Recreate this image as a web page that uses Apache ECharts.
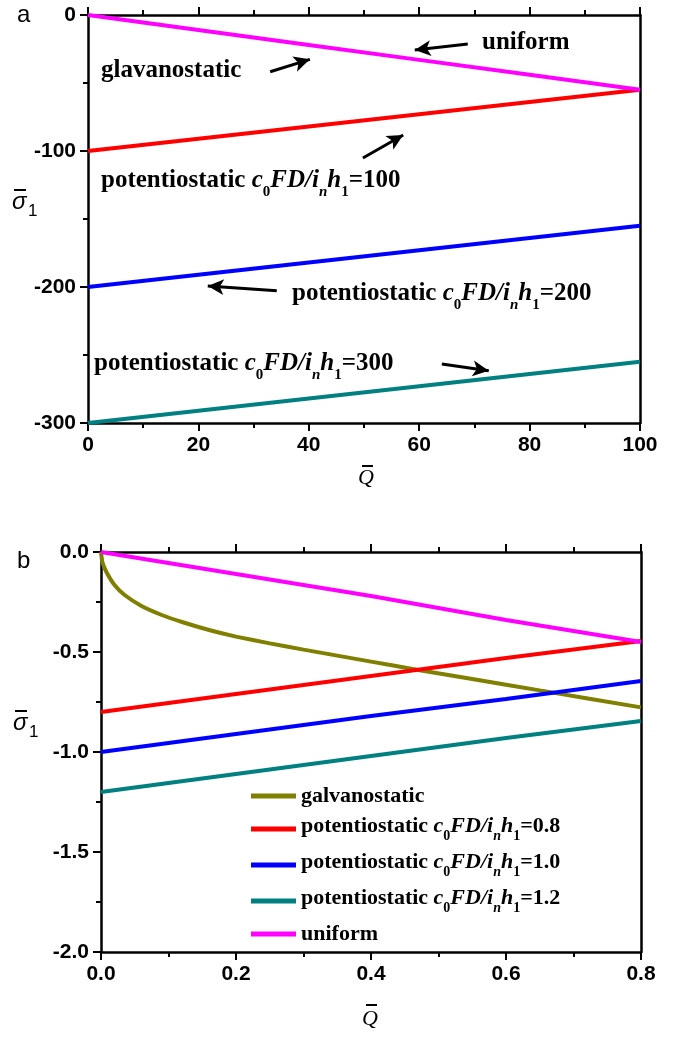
<!DOCTYPE html>
<html lang="en">
<head>
<meta charset="UTF-8">
<title>sigma1 vs Q</title>
<script src="https://cdn.jsdelivr.net/npm/echarts@6/dist/echarts.min.js"></script>
<style>body{margin:0;background:#fff}</style>
</head>
<body>
<div id="main" style="width:676px;height:1038px;"></div>
<script>
// panel a
var qA = [0, 20, 40, 60, 80, 100];
var uniformA = [0, -11, -22, -33, -44, -55];
var pot100 = [-100, -91, -82, -73, -64, -55];
var pot200 = [-200, -191, -182, -173, -164, -155];
var pot300 = [-300, -291, -282, -273, -264, -255];
// arrows of panel a, [from, to] in data units
var arrowsA = [
    [[68.8, -21.3], [59.2, -25.7]],
    [[33.0, -41.7], [40.2, -32.6]],
    [[49.8, -105.1], [57.1, -88.2]],
    [[34.2, -202.7], [21.7, -199.3]],
    [[64.1, -256.6], [72.6, -261.5]]
];

// panel b
var qB = [0, 0.2, 0.4, 0.6, 0.8];
var uniformB = [0, -0.11, -0.22, -0.34, -0.45];
var pot08 = [-0.8, -0.71, -0.62, -0.53, -0.445];
var pot10 = [-1.0, -0.91, -0.82, -0.735, -0.645];
var pot12 = [-1.2, -1.11, -1.02, -0.93, -0.845];
var qGalv = [0, 0.002, 0.008, 0.02, 0.035, 0.06, 0.09, 0.12, 0.16, 0.2, 0.25, 0.3, 0.35, 0.4, 0.47, 0.55, 0.65, 0.8];
var galv = [0, -0.05, -0.1, -0.165, -0.215, -0.27, -0.315, -0.35, -0.39, -0.423, -0.457, -0.488, -0.518, -0.548, -0.59, -0.635, -0.692, -0.777];

var names = ['galvanostatic', 'potentiostatic 0.8', 'potentiostatic 1.0', 'potentiostatic 1.2', 'uniform'];

function pts(xs, ys) {
    return xs.map(function (x, i) { return [x, ys[i]]; });
}

var serif = 'Liberation Serif';
var sans = 'Liberation Sans';

function richSet(size, sub, drop) {
    return {
        p: {fontFamily: serif, fontWeight: 'bold', fontSize: size, color: '#000', verticalAlign: 'top'},
        i: {fontFamily: serif, fontWeight: 'bold', fontStyle: 'italic', fontSize: size, color: '#000', verticalAlign: 'top'},
        s: {fontFamily: serif, fontWeight: 'bold', fontSize: sub, color: '#000', verticalAlign: 'top', padding: [drop, 0, 0, 0]},
        si: {fontFamily: serif, fontWeight: 'bold', fontStyle: 'italic', fontSize: sub, color: '#000', verticalAlign: 'top', padding: [drop, 0, 0, 0]}
    };
}
function potText(v) {
    return '{p|potentiostatic }{i|c}{s|0}{i|FD/i}{si|n}{i|h}{s|1}{p|=' + v + '}';
}

var myChart = echarts.init(document.getElementById('main'));

function xAx(grid, min, max, interval, top, fmt) {
    return {
        type: 'value', gridIndex: grid, min: min, max: max, interval: interval,
        position: top ? 'top' : 'bottom',
        axisLine: {onZero: false, lineStyle: {color: '#000', width: 2.5}},
        axisTick: {length: 8, lineStyle: {color: '#000', width: 2}},
        minorTick: {show: true, splitNumber: 2, length: 5, lineStyle: {color: '#000', width: 2}},
        splitLine: {show: false},
        axisLabel: {show: !top, margin: 12, color: '#000', fontFamily: sans, fontWeight: 'bold', fontSize: 21, formatter: fmt}
    };
}
function yAx(grid, min, max, interval, right, fmt) {
    return {
        type: 'value', gridIndex: grid, min: min, max: max, interval: interval,
        position: right ? 'right' : 'left',
        axisLine: {onZero: false, lineStyle: {color: '#000', width: 2.5}},
        axisTick: {show: !right, length: 8, lineStyle: {color: '#000', width: 2}},
        minorTick: {show: !right, splitNumber: 2, length: 5, lineStyle: {color: '#000', width: 2}},
        splitLine: {show: false},
        axisLabel: {show: !right, margin: 12, color: '#000', fontFamily: sans, fontWeight: 'bold', fontSize: 21, formatter: fmt}
    };
}
var f1 = function (v) { return v.toFixed(1); };

function line(name, x, y, data, color, extra) {
    var s = {
        name: name, type: 'line', xAxisIndex: x, yAxisIndex: y, data: data,
        symbol: 'none', lineStyle: {color: color, width: 4}, itemStyle: {color: color}
    };
    for (var k in extra) s[k] = extra[k];
    return s;
}

var legendRich = richSet(22, 14, 14);

option = {
    animation: false,
    backgroundColor: '#fff',
    grid: [
        {left: 88, right: 36, top: 15, height: 408},
        {left: 101, right: 35, top: 552, height: 400}
    ],
    xAxis: [
        xAx(0, 0, 100, 20, false),
        xAx(0, 0, 100, 20, true),
        xAx(1, 0, 0.8, 0.2, false, f1),
        xAx(1, 0, 0.8, 0.2, true, f1)
    ],
    yAxis: [
        yAx(0, -300, 0, 100, false),
        yAx(0, -300, 0, 100, true),
        yAx(1, -2, 0, 0.5, false, f1),
        yAx(1, -2, 0, 0.5, true, f1)
    ],
    legend: {
        data: names,
        orient: 'vertical',
        left: 251,
        top: 785,
        padding: 0,
        itemWidth: 45,
        itemHeight: 5,
        itemGap: 8,
        icon: 'rect',
        formatter: function (n) {
            if (n === 'galvanostatic' || n === 'uniform') return '{p|' + n + '}';
            return potText(n.split(' ')[1]);
        },
        textStyle: {rich: legendRich},
        itemStyle: {borderWidth: 0}
    },
    series: [
        line('a 100', 0, 0, pts(qA, pot100), '#ff0000'),
        line('a 200', 0, 0, pts(qA, pot200), '#0000ff'),
        line('a 300', 0, 0, pts(qA, pot300), '#008080', {
            markLine: {
                silent: true, symbol: ['none', 'arrow'], symbolSize: [12, 16],
                label: {show: false},
                lineStyle: {color: '#000', width: 3, type: 'solid'},
                data: arrowsA.map(function (a) { return [{coord: a[0]}, {coord: a[1]}]; })
            }
        }),
        line('a uniform', 0, 0, pts(qA, uniformA), '#ff00ff'),
        line(names[0], 2, 2, pts(qGalv, galv), '#808000', {smooth: 0.15}),
        line(names[1], 2, 2, pts(qB, pot08), '#ff0000'),
        line(names[2], 2, 2, pts(qB, pot10), '#0000ff'),
        line(names[3], 2, 2, pts(qB, pot12), '#008080'),
        line(names[4], 2, 2, pts(qB, uniformB), '#ff00ff')
    ],
    graphic: [
        {type: 'text', x: 17, y: 3, style: {text: 'a', font: '24px ' + sans, fill: '#000'}},
        {type: 'text', x: 17, y: 549, style: {text: 'b', font: '24px ' + sans, fill: '#000'}},
        // annotations of panel a
        {type: 'text', x: 482, y: 30, style: {text: '{p|uniform}', rich: richSet(25, 15, 17)}},
        {type: 'text', x: 101, y: 58, style: {text: '{p|glavanostatic}', rich: richSet(25, 15, 17)}},
        {type: 'text', x: 101, y: 168, style: {text: potText('100'), rich: richSet(25, 15, 17)}},
        {type: 'text', x: 292, y: 281, style: {text: potText('200'), rich: richSet(25, 15, 17)}},
        {type: 'text', x: 94, y: 351, style: {text: potText('300'), rich: richSet(25, 15, 17)}},
        // axis titles
        {type: 'rect', shape: {x: 14, y: 189, width: 12, height: 2}, style: {fill: '#000'}},
        {type: 'text', x: 12, y: 190, style: {text: 'σ', font: 'italic 24px ' + sans, fill: '#000'}},
        {type: 'text', x: 28, y: 203, style: {text: '1', font: '17px ' + sans, fill: '#000'}},
        {type: 'rect', shape: {x: 15, y: 710, width: 12, height: 2}, style: {fill: '#000'}},
        {type: 'text', x: 13, y: 711, style: {text: 'σ', font: 'italic 24px ' + sans, fill: '#000'}},
        {type: 'text', x: 29, y: 724, style: {text: '1', font: '17px ' + sans, fill: '#000'}},
        {type: 'rect', shape: {x: 362, y: 465, width: 11, height: 2}, style: {fill: '#000'}},
        {type: 'text', x: 358, y: 467, style: {text: 'Q', font: 'italic 22px ' + serif, fill: '#000'}},
        {type: 'rect', shape: {x: 366, y: 1004, width: 11, height: 2}, style: {fill: '#000'}},
        {type: 'text', x: 362, y: 1008, style: {text: 'Q', font: 'italic 22px ' + serif, fill: '#000'}}
    ]
};

myChart.setOption(option);
</script>
</body>
</html>
